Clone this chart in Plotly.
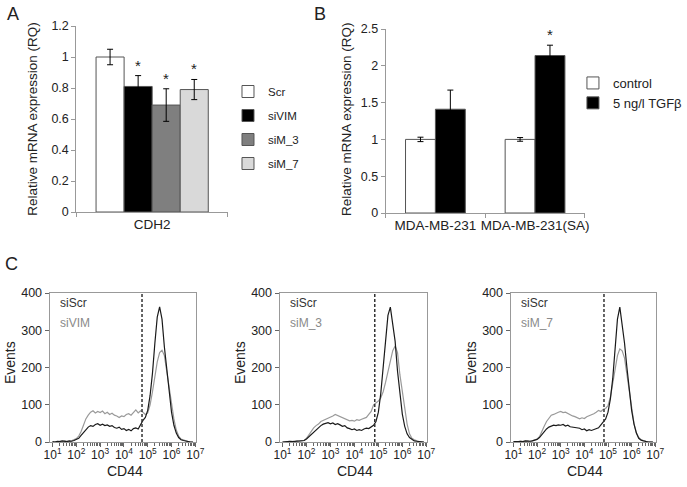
import numpy as np
import plotly.graph_objects as go

W, H = 687, 487
FONT = "Liberation Sans, Arial, sans-serif"


def px_x(p):
    return p / W


def px_y(p):
    return 1 - p / H


# ---- panel A: CDH2 expression after knock-down
A_CATEGORY = ["CDH2"]
A_GROUPS = ["Scr", "siVIM", "siM_3", "siM_7"]
A_VALUES = [1.00, 0.81, 0.69, 0.79]
A_ERRORS = [0.05, 0.07, 0.105, 0.065]
A_SIG = [False, True, True, True]

# ---- panel B: TGFb stimulation
B_CELLS = ["MDA-MB-231", "MDA-MB-231(SA)"]
B_CONTROL = [1.00, 1.00]
B_CONTROL_ERR = [0.03, 0.025]
B_TGFB = [1.41, 2.14]
B_TGFB_ERR = [0.26, 0.14]
B_TGFB_SIG = [False, True]

# ---- panel C: CD44 flow histograms (log10 of CD44 intensity, events)
LOG_BINS = [1.0, 1.1, 1.2, 1.3, 1.4, 1.5, 1.6, 1.7, 1.8, 1.9,
            2.0, 2.1, 2.2, 2.3, 2.4, 2.5, 2.6, 2.7, 2.8, 2.9,
            3.0, 3.1, 3.2, 3.3, 3.4, 3.5, 3.6, 3.7, 3.8, 3.9,
            4.0, 4.1, 4.2, 4.3, 4.4, 4.5, 4.6, 4.7, 4.8, 4.9,
            5.0, 5.1, 5.2, 5.3, 5.4, 5.5, 5.6, 5.7, 5.8, 5.9,
            6.0, 6.1, 6.2, 6.3, 6.4, 6.5, 6.6, 6.7, 6.8, 6.9]

SCR_1 = [1, 0, 2, 1, 3, 2, 1, 3, 2, 4,
         6, 10, 18, 26, 35, 40, 44, 42, 47, 49,
         45, 48, 44, 46, 42, 44, 39, 37, 40, 34,
         36, 31, 34, 30, 36, 38, 35, 48, 58, 66,
         85, 125, 185, 265, 335, 363, 330, 255, 195, 130,
         80, 45, 24, 12, 6, 4, 2, 1, 0, 0]
SIVIM = [0, 1, 0, 2, 1, 3, 2, 1, 3, 5,
         9, 16, 28, 45, 62, 72, 80, 84, 78, 82,
         79, 83, 76, 80, 74, 77, 72, 70, 66, 70,
         68, 74, 76, 72, 80, 86, 78, 84, 80, 74,
         78, 100, 135, 180, 215, 240, 246, 232, 190, 145,
         100, 62, 32, 16, 8, 5, 3, 1, 0, 0]
SCR_2 = [0, 1, 0, 2, 1, 2, 1, 3, 3, 4,
         8, 14, 22, 28, 34, 40, 44, 48, 50, 52,
         49, 51, 47, 49, 46, 42, 44, 38, 36, 33,
         35, 31, 33, 31, 35, 37, 36, 40, 45, 55,
         80, 130, 200, 280, 340, 362, 320, 270, 190, 125,
         75, 42, 22, 12, 7, 3, 2, 1, 0, 0]
SIM_3 = [0, 1, 0, 1, 2, 1, 3, 2, 2, 4,
         10, 20, 30, 38, 44, 48, 55, 58, 60, 62,
         66, 70, 74, 71, 68, 65, 62, 60, 57, 58,
         56, 60, 58, 61, 64, 66, 74, 82, 100, 104,
         110, 118, 135, 160, 190, 220, 245, 258, 240, 180,
         140, 90, 48, 22, 10, 6, 3, 1, 0, 0]
SCR_3 = [1, 0, 1, 2, 1, 3, 2, 2, 3, 4,
         7, 12, 20, 27, 35, 40, 43, 45, 44, 46,
         45, 47, 43, 45, 41, 40, 38, 36, 37, 33,
         35, 30, 33, 31, 34, 37, 38, 46, 55, 62,
         80, 115, 170, 250, 330, 362, 320, 265, 200, 135,
         85, 48, 24, 10, 5, 3, 1, 0, 0, 0]
SIM_7 = [0, 1, 0, 2, 1, 2, 3, 1, 3, 5,
         8, 14, 26, 42, 55, 65, 72, 74, 78, 80,
         82, 79, 80, 76, 74, 70, 68, 64, 62, 65,
         63, 68, 70, 72, 76, 80, 85, 82, 88, 90,
         98, 120, 160, 200, 232, 250, 245, 225, 180, 130,
         85, 50, 25, 12, 6, 3, 2, 1, 0, 0]

C_LABELS = ["siVIM", "siM_3", "siM_7"]
C_CONTROL = [SCR_1, SCR_2, SCR_3]
C_KNOCKDOWN = [SIVIM, SIM_3, SIM_7]
C_GATES = [4.76, 4.85, 4.83]   # log10 position of the dashed gate

fig = go.Figure()


def note(**kw):
    d = dict(showarrow=False, xanchor="center", yanchor="middle")
    d.update(kw)
    return d


# ---------------- panel A bars
A_COLORS = ["white", "black", "#7f7f7f", "#d9d9d9"]
a_width = 0.185
annotations = []
for i, name in enumerate(A_GROUPS):
    off = -2 * a_width + i * a_width
    fig.add_trace(go.Bar(
        x=A_CATEGORY, y=[A_VALUES[i]], name=name,
        width=a_width, offset=off,
        marker=dict(color=A_COLORS[i], line=dict(color="#555", width=1)),
        error_y=dict(type="data", array=[A_ERRORS[i]], color="black", thickness=1, width=3),
        xaxis="x", yaxis="y", legend="legend", legendgroup=name,
    ))
    if A_SIG[i]:
        annotations.append(note(x=off + a_width / 2, y=A_VALUES[i] + A_ERRORS[i], xref="x", yref="y",
                                text="*", yanchor="bottom", font=dict(size=15)))

# ---------------- panel B bars
b_width = 0.3
fig.add_trace(go.Bar(
    x=B_CELLS, y=B_CONTROL, name="control", width=b_width, offset=-b_width,
    marker=dict(color="white", line=dict(color="#555", width=1)),
    error_y=dict(type="data", array=B_CONTROL_ERR, color="black", thickness=1, width=3),
    xaxis="x2", yaxis="y2", legend="legend2", legendgroup="control",
))
fig.add_trace(go.Bar(
    x=B_CELLS, y=B_TGFB, name="5 ng/l TGFβ", width=b_width, offset=0,
    marker=dict(color="black", line=dict(color="#555", width=1)),
    error_y=dict(type="data", array=B_TGFB_ERR, color="black", thickness=1, width=3),
    xaxis="x2", yaxis="y2", legend="legend2", legendgroup="tgfb",
))
for j, sig in enumerate(B_TGFB_SIG):
    if sig:
        annotations.append(note(x=j + b_width / 2, y=B_TGFB[j] + B_TGFB_ERR[j], xref="x2", yref="y2",
                                text="*", yanchor="bottom", font=dict(size=15)))

# ---------------- panel C histograms
x_vals = 10 ** np.array(LOG_BINS)
for k in range(3):
    ax = str(k + 3)
    fig.add_trace(go.Scatter(x=x_vals, y=C_KNOCKDOWN[k], mode="lines",
                             line=dict(color="#9a9a9a", width=1.2), showlegend=False,
                             xaxis="x" + ax, yaxis="y" + ax))
    fig.add_trace(go.Scatter(x=x_vals, y=C_CONTROL[k], mode="lines",
                             line=dict(color="#1a1a1a", width=1.2), showlegend=False,
                             xaxis="x" + ax, yaxis="y" + ax))
    fig.add_shape(type="line", xref="x" + ax, yref="y" + ax + " domain",
                  x0=10 ** C_GATES[k], x1=10 ** C_GATES[k], y0=0, y1=1,
                  line=dict(color="#333", width=1.5, dash="3px,2px"))
    annotations += [
        note(x=0, y=0.933, xref="x" + ax + " domain", yref="y" + ax + " domain", xshift=8,
             text="siScr", xanchor="left", font=dict(size=12, color="#333")),
        note(x=0, y=0.799, xref="x" + ax + " domain", yref="y" + ax + " domain", xshift=8,
             text=C_LABELS[k], xanchor="left", font=dict(size=12, color="#8a8a8a")),
        note(x=0, y=0.5, xref="x" + ax + " domain", yref="y" + ax + " domain", xshift=-40, yshift=5,
             text="Events", textangle=-90, font=dict(size=14)),
        note(x=0.5, y=px_y(471), xref="x" + ax + " domain", yref="paper", xshift=2,
             text="CD44", font=dict(size=14)),
    ]

# ---------------- axis titles and panel letters
annotations += [
    note(x=px_x(32), y=px_y(119), xref="paper", yref="paper", text="Relative mRNA expression (RQ)",
         textangle=-90, font=dict(size=13.5)),
    note(x=px_x(349), y=px_y(119), xref="paper", yref="paper", text="Relative mRNA expression (RQ)",
         textangle=-90, font=dict(size=13.5)),
    note(x=px_x(13), y=px_y(14), xref="paper", yref="paper", text="A", font=dict(size=18)),
    note(x=px_x(323), y=px_y(14), xref="paper", yref="paper", text="B", font=dict(size=18)),
    note(x=px_x(12), y=px_y(264), xref="paper", yref="paper", text="C", font=dict(size=18)),
]

bar_axis = dict(showline=True, linecolor="#999", ticks="outside", ticklen=4, tickcolor="#999",
                showgrid=False, zeroline=False, tickfont=dict(size=12.5), automargin=False)
cat_axis = dict(showline=True, linecolor="#999", ticks="outside", ticklen=4, tickcolor="#999",
                tickson="boundaries", type="category", showgrid=False, zeroline=False,
                tickfont=dict(size=13.5), tickangle=0, automargin=False)

layout = dict(
    width=W, height=H, margin=dict(l=0, r=0, t=0, b=0),
    paper_bgcolor="white", plot_bgcolor="white",
    font=dict(family=FONT, color="#222", size=12),
    barmode="group",
    xaxis=dict(cat_axis, domain=[px_x(77), px_x(230)], anchor="y", range=[-0.5, 0.5]),
    yaxis=dict(bar_axis, domain=[px_y(212), px_y(26)], anchor="x", range=[0, 1.2], dtick=0.2),
    xaxis2=dict(cat_axis, domain=[px_x(389), px_x(590)], anchor="y2", range=[-0.5, 1.5]),
    yaxis2=dict(bar_axis, domain=[px_y(213), px_y(29)], anchor="x2", range=[0, 2.5], dtick=0.5),
    legend=dict(x=px_x(230), y=px_y(77), xanchor="left", yanchor="top", font=dict(size=11.5),
                tracegroupgap=5, bgcolor="rgba(0,0,0,0)", traceorder="grouped"),
    legend2=dict(x=px_x(578), y=px_y(68), xanchor="left", yanchor="top", font=dict(size=13),
                 tracegroupgap=0, bgcolor="rgba(0,0,0,0)", traceorder="normal"),
    annotations=annotations,
)

minor_vals = [m * 10 ** n for n in range(1, 7) for m in range(2, 10)]
for k, (x0, x1) in enumerate([(50, 198), (282, 431), (515, 662)]):
    ax = str(k + 3)
    layout["xaxis" + ax] = dict(
        domain=[px_x(x0), px_x(x1)], anchor="y" + ax, type="log", range=[0.875, 7.04],
        tickvals=[10 ** n for n in range(1, 8)],
        ticktext=["10<sup>%d</sup>" % n for n in range(1, 8)],
        ticks="outside", ticklen=4, tickcolor="#666", tickangle=0, ticklabelstandoff=-2,
        minor=dict(tickvals=minor_vals, ticks="outside", ticklen=3, tickcolor="#666"),
        showline=True, mirror=True, linecolor="#999", showgrid=False, zeroline=False,
        tickfont=dict(size=12), automargin=False,
    )
    layout["yaxis" + ax] = dict(
        domain=[px_y(442), px_y(293)], anchor="x" + ax, range=[0, 400], dtick=100,
        ticks="outside", ticklen=4, tickcolor="#666",
        showline=True, mirror=True, linecolor="#999", showgrid=False, zeroline=False,
        tickfont=dict(size=12.5), automargin=False,
    )

fig.update_layout(layout)
# the page's default 8px body margin would push the figure off the 687x487 window
fig.write_html("out.html", config={"displayModeBar": False},
               post_script="document.body.style.margin='0';")
